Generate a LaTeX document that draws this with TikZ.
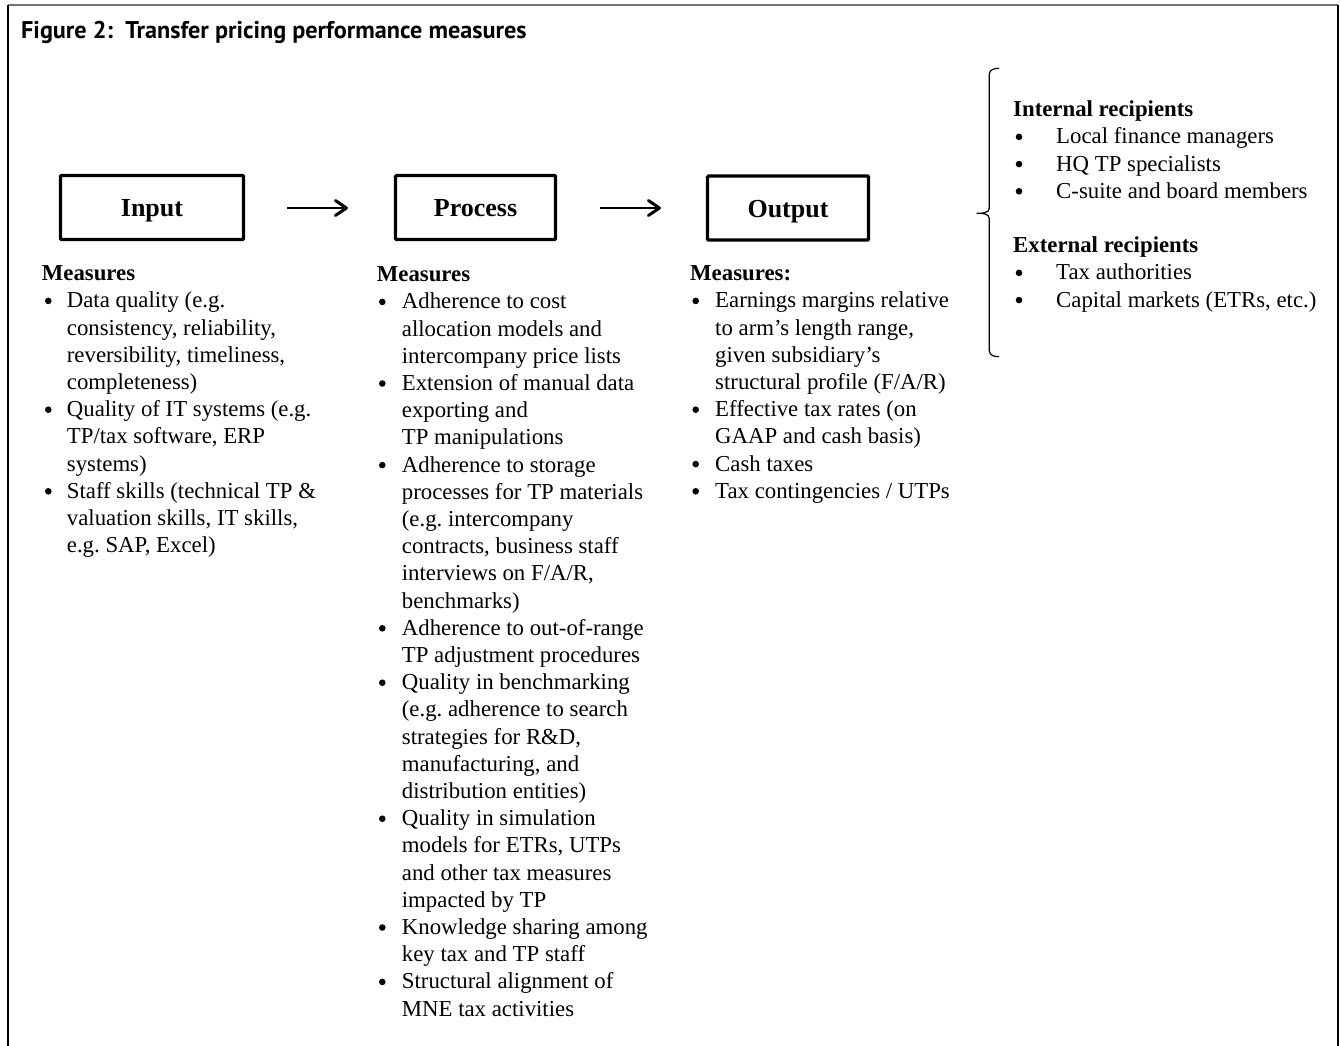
\documentclass[tikz,border=0pt]{standalone}
\usepackage{fontspec}
\setmainfont{Liberation Serif}
\newfontfamily\titlefont{PT Sans}
\usetikzlibrary{arrows.meta}
\frenchspacing
\tikzset{
  txt/.style={anchor=base west, inner sep=0pt, font=\fontsize{22.8}{27.2}\selectfont},
  hdr/.style={txt, font=\fontsize{22.8}{27.2}\selectfont\bfseries},
  bul/.style={circle, fill, inner sep=0pt, minimum size=6.6pt},
  stagebox/.style={draw, line width=3.2pt, rounded corners=1pt, minimum height=64pt, inner sep=0pt,
     text height=18pt, text depth=0pt, font=\fontsize{26}{30}\selectfont\bfseries},
  flowarrow/.style={line width=1.5pt, -{Straight Barb[length=11pt,width=15pt,line width=3pt,round]}},
}
\begin{document}
\begin{tikzpicture}[x=1pt,y=-1pt]
\useasboundingbox (0,0) rectangle (1340,1045);
% frame
\draw[line width=1.8pt, black!55] (8,5) -- (1338,5);
\draw[line width=1.8pt] (8,5) -- (8,1050);
\draw[line width=1.8pt] (1338,5) -- (1338,1050);
% title
\node[anchor=base west, inner sep=0pt, font=\titlefont\bfseries\fontsize{24.2}{28}\selectfont] (title) at (21,38.3)
  {Figure 2:\ \ Transfer pricing performance measures};
% stage boxes
\node[stagebox, minimum width=183pt] (in) at (152,207.5) {Input};
\node[stagebox, minimum width=160pt] (pr) at (475.5,207.5) {Process};
\node[stagebox, minimum width=161pt] (out) at (788,208) {Output};
\draw[flowarrow] ([xshift=42pt]in.east |- 0,208) -- ([xshift=-46pt]pr.west |- 0,208);
\draw[flowarrow] ([xshift=43pt]pr.east |- 0,208) -- ([xshift=-45pt]out.west |- 0,208);
% Input column
\node[hdr] (inh) at (41.7,280.7) {Measures};
\foreach \t [count=\i] in {{Data quality (e.g.}, {consistency, reliability,}, {reversibility, timeliness,}, {completeness)},
  {Quality of IT systems (e.g.}, {TP/tax software, ERP}, {systems)}, {Staff skills (technical TP \&}, {valuation skills, IT skills,}, {e.g. SAP, Excel)}}
  \node[txt] (inl\i) at (66.7,280.7+27.2*\i) {\t};
\foreach \i in {1,5,8} \node[bul] (inb\i) at (48.3,273.7+27.2*\i) {};
% Process column
\node[hdr] (prh) at (376.7,281.7) {Measures};
\foreach \t [count=\i] in {{Adherence to cost}, {allocation models and}, {intercompany price lists},
  {Extension of manual data}, {exporting and}, {TP manipulations},
  {Adherence to storage}, {processes for TP materials}, {(e.g. intercompany}, {contracts, business staff}, {interviews on F/A/R,}, {benchmarks)},
  {Adherence to out-of-range}, {TP adjustment procedures},
  {Quality in benchmarking}, {(e.g. adherence to search}, {strategies for R\&D,}, {manufacturing, and}, {distribution entities)},
  {Quality in simulation}, {models for ETRs, UTPs}, {and other tax measures}, {impacted by TP},
  {Knowledge sharing among}, {key tax and TP staff},
  {Structural alignment of}, {MNE tax activities}}
  \node[txt] (prl\i) at (401.7,281.7+27.2*\i) {\t};
\foreach \i in {1,4,7,13,15,20,24,26} \node[bul] (prb\i) at (382.3,274.7+27.2*\i) {};
% Output column
\node[hdr] (outh) at (690,280.7) {Measures:};
\foreach \t [count=\i] in {{Earnings margins relative}, {to arm’s length range,}, {given subsidiary’s}, {structural profile (F/A/R)},
  {Effective tax rates (on}, {GAAP and cash basis)}, {Cash taxes}, {Tax contingencies / UTPs}}
  \node[txt] (outl\i) at (715,280.7+27.2*\i) {\t};
\foreach \i in {1,5,7,8} \node[bul] (outb\i) at (695.7,273.7+27.2*\i) {};
% brace
\draw[line width=1.2pt] (999,68.3) to[out=180,in=90] (989.3,74) -- (989.3,208)
  to[out=-90,in=0] (976.7,213.3) to[out=0,in=90] (989.3,218.6) -- (989.3,351)
  to[out=-90,in=180] (999,356.7);
% recipients
\node[hdr] (rih) at (1013,116.7) {Internal recipients};
\node[txt] (ri1) at (1056,143.9) {Local finance managers};
\node[txt] (ri2) at (1056,171.1) {HQ TP specialists};
\node[txt] (ri3) at (1056,198.3) {C-suite and board members};
\node[hdr] (reh) at (1013,252.7) {External recipients};
\node[txt] (re1) at (1056,279.9) {Tax authorities};
\node[txt] (re2) at (1056,307.1) {Capital markets (ETRs, etc.)};
\foreach \y [count=\i] in {143.9,171.1,198.3,279.9,307.1}
  \node[bul] (rb\i) at (1019,\y-7) {};
\end{tikzpicture}
\end{document}
